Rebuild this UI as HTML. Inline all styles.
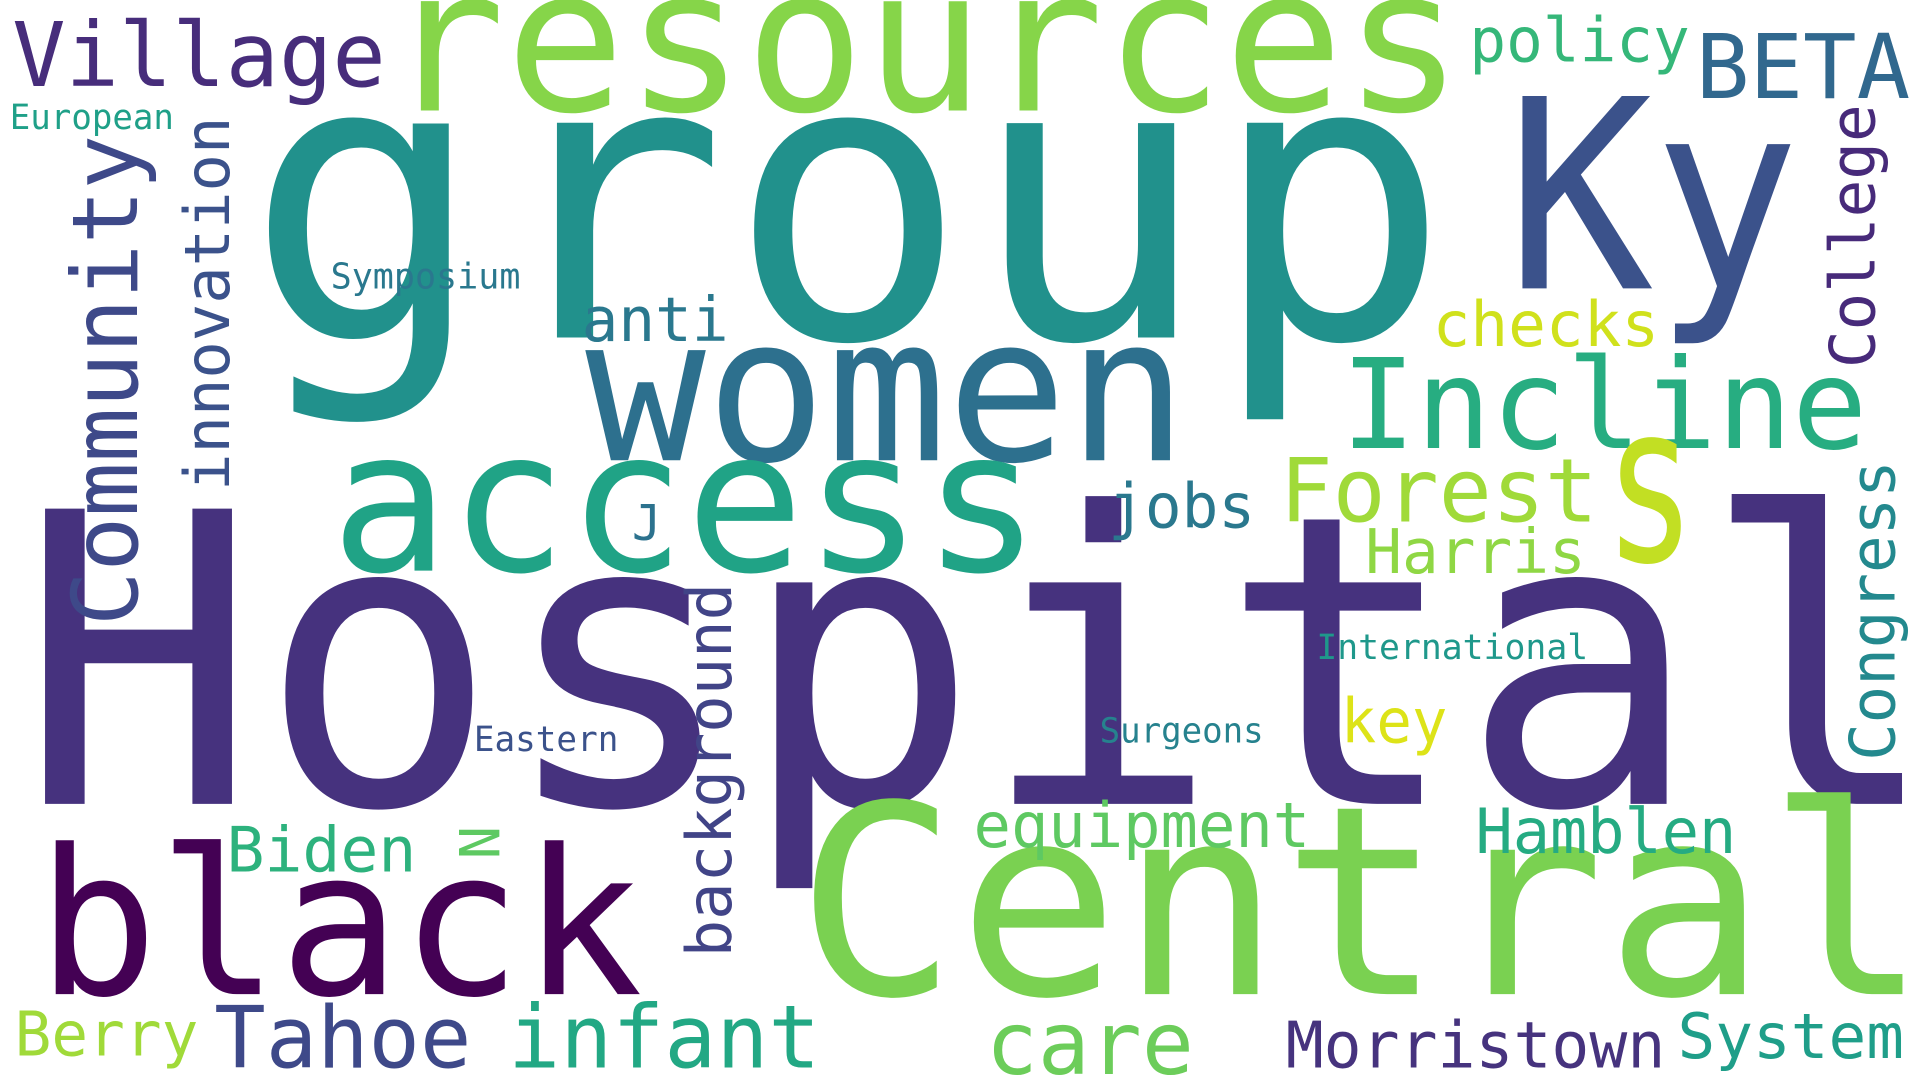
<!DOCTYPE html>
<html><head><meta charset="utf-8"><style>
html,body{margin:0;padding:0;background:#fff;width:1920px;height:1080px;overflow:hidden}
svg{display:block}
text{font-family:"DejaVu Sans Mono","Liberation Mono",monospace}
</style></head><body>
<svg width="1920" height="1080" viewBox="0 0 1568 880" preserveAspectRatio="none" xmlns="http://www.w3.org/2000/svg">
<rect width="1568" height="880" fill="#fff"/>
<g>
<text x="15" y="655" font-size="330" fill="#46327e" textLength="1570" lengthAdjust="spacingAndGlyphs">Hospital</text>
<text x="200" y="275" font-size="320" fill="#21918c" textLength="985" lengthAdjust="spacingAndGlyphs">group</text>
<text x="315" y="90" font-size="163" fill="#86d549" textLength="880" lengthAdjust="spacingAndGlyphs">resources</text>
<text x="1230" y="235" font-size="215" fill="#3b528b" textLength="240" lengthAdjust="spacingAndGlyphs">Ky</text>
<text x="10" y="70" font-size="73" fill="#472d7b" textLength="305" lengthAdjust="spacingAndGlyphs">Village</text>
<text x="1200" y="50" font-size="50" fill="#35b779" textLength="180" lengthAdjust="spacingAndGlyphs">policy</text>
<text x="1385" y="80" font-size="73" fill="#31688e" textLength="175" lengthAdjust="spacingAndGlyphs">BETA</text>
<text x="8" y="105" font-size="28" fill="#1fa088" textLength="134" lengthAdjust="spacingAndGlyphs">European</text>
<text transform="translate(112,510) rotate(-90)" font-size="74" fill="#3e4989" textLength="400" lengthAdjust="spacingAndGlyphs">Community</text>
<text transform="translate(187,400) rotate(-90)" font-size="51" fill="#3b528b" textLength="305" lengthAdjust="spacingAndGlyphs">innovation</text>
<text x="270" y="235" font-size="29" fill="#2a788e" textLength="155" lengthAdjust="spacingAndGlyphs">Symposium</text>
<text x="475" y="278" font-size="50" fill="#2a788e" textLength="120" lengthAdjust="spacingAndGlyphs">anti</text>
<text x="1170" y="282" font-size="51" fill="#d0e11c" textLength="185" lengthAdjust="spacingAndGlyphs">checks</text>
<text transform="translate(1531,300) rotate(-90)" font-size="51" fill="#472a7a" textLength="215" lengthAdjust="spacingAndGlyphs">College</text>
<text x="478" y="375" font-size="164" fill="#2d708e" textLength="492" lengthAdjust="spacingAndGlyphs">women</text>
<text x="1095" y="365" font-size="102" fill="#27ad81" textLength="430" lengthAdjust="spacingAndGlyphs">Incline</text>
<text x="270" y="465" font-size="161" fill="#20a386" textLength="580" lengthAdjust="spacingAndGlyphs">access</text>
<text x="1310" y="457" font-size="180" fill="#c2df23" textLength="75" lengthAdjust="spacingAndGlyphs">s</text>
<text x="1045" y="425" font-size="72" fill="#a0da39" textLength="260" lengthAdjust="spacingAndGlyphs">Forest</text>
<text x="905" y="430" font-size="50" fill="#2a788e" textLength="120" lengthAdjust="spacingAndGlyphs">jobs</text>
<text x="516" y="440" font-size="40" fill="#2c728e">J</text>
<text x="1115" y="467" font-size="50" fill="#8fd744" textLength="180" lengthAdjust="spacingAndGlyphs">Harris</text>
<text transform="translate(1547,620) rotate(-90)" font-size="51" fill="#23898e" textLength="245" lengthAdjust="spacingAndGlyphs">Congress</text>
<text x="1075" y="537" font-size="28" fill="#1f988b" textLength="222" lengthAdjust="spacingAndGlyphs">International</text>
<text transform="translate(597,780) rotate(-90)" font-size="51" fill="#414487" textLength="305" lengthAdjust="spacingAndGlyphs">background</text>
<text x="1095" y="605" font-size="50" fill="#dde318" textLength="87" lengthAdjust="spacingAndGlyphs">key</text>
<text x="898" y="605" font-size="28" fill="#26828e" textLength="134" lengthAdjust="spacingAndGlyphs">Surgeons</text>
<text x="387" y="612" font-size="28" fill="#3b528b" textLength="118" lengthAdjust="spacingAndGlyphs">Eastern</text>
<text x="650" y="810" font-size="215" fill="#7ad151" textLength="925" lengthAdjust="spacingAndGlyphs">Central</text>
<text x="30" y="810" font-size="165" fill="#440154" textLength="495" lengthAdjust="spacingAndGlyphs">black</text>
<text x="185" y="710" font-size="51" fill="#2db27d" textLength="155" lengthAdjust="spacingAndGlyphs">Biden</text>
<text transform="translate(375,673) rotate(90)" font-size="45" fill="#5ec962">N</text>
<text x="795" y="690" font-size="51" fill="#5ec962" textLength="275" lengthAdjust="spacingAndGlyphs">equipment</text>
<text x="1205" y="695" font-size="51" fill="#25ab82" textLength="213" lengthAdjust="spacingAndGlyphs">Hamblen</text>
<text x="12" y="860" font-size="50" fill="#a0da39" textLength="150" lengthAdjust="spacingAndGlyphs">Berry</text>
<text x="175" y="870" font-size="70" fill="#3e4989" textLength="210" lengthAdjust="spacingAndGlyphs">Tahoe</text>
<text x="415" y="870" font-size="71" fill="#22a884" textLength="255" lengthAdjust="spacingAndGlyphs">infant</text>
<text x="805" y="875" font-size="71" fill="#6ccd5a" textLength="170" lengthAdjust="spacingAndGlyphs">care</text>
<text x="1050" y="870" font-size="52" fill="#46337e" textLength="310" lengthAdjust="spacingAndGlyphs">Morristown</text>
<text x="1370" y="862" font-size="51" fill="#1f9e89" textLength="185" lengthAdjust="spacingAndGlyphs">System</text>
</g>
</svg>
</body></html>
